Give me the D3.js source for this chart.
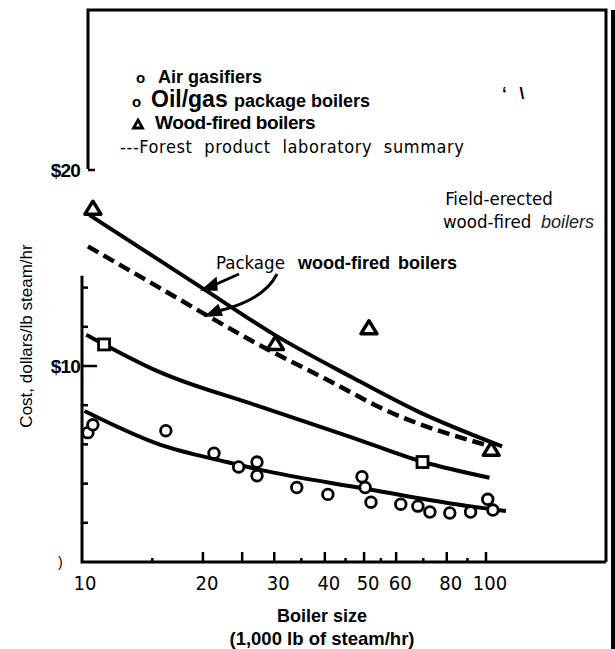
<html>
<head>
<script src="https://d3js.org/d3.v7.min.js"></script>
<style>
    body { margin: 0; background: #fff; }
    svg { display: block; }
    .sans { font-family: "Liberation Sans", Arial, sans-serif; }
    .narrow { font-family: "Liberation Sans Narrow", "DejaVu Sans Condensed", sans-serif; font-stretch: condensed; }
</style>
</head>
<body>
<svg id="chart" width="615" height="649"></svg>
<script>
// boiler size (1,000 lb steam/hr) vs cost ($/lb steam/hr)
const fieldErectedCurve = [[10.5, 17.7], [15.6, 15.4], [20.2, 13.9], [30, 11.6], [46.9, 9.4], [67.6, 7.7], [109.6, 5.9]];
const forestLabCurve = [[10.4, 16.1], [15.6, 14.0], [20, 12.7], [27.7, 11.05], [40, 9.36], [57.9, 7.65], [105, 5.85]];
const oilGasCurve = [[10.3, 11.6], [15.6, 9.7], [27, 8.0], [46, 6.4], [70, 5.1], [102, 4.3]];
const gasifierCurve = [[10.2, 7.7], [15.6, 6.0], [22.9, 5.1], [27.7, 4.7], [50, 3.75], [81, 3.0], [112, 2.6]];

const gasifierPoints = [[10.4, 6.6], [10.7, 7.0], [16.2, 6.7], [21.3, 5.55], [24.5, 4.85], [27.2, 5.1], [27.2, 4.4],
    [34.1, 3.8], [40.7, 3.45], [49.4, 4.35], [50.3, 3.8], [52, 3.05], [61.6, 2.95], [67.9, 2.85], [72.7, 2.55],
    [81.4, 2.5], [91.6, 2.55], [101, 3.2], [104, 2.65]];
const oilGasPoints = [[11.4, 11.1], [69.7, 5.1]];
const woodPoints = [[10.7, 18.0], [30.2, 11.1], [51.4, 11.9], [103, 5.7]];

const xTicks = [15, 20, 25, 30, 35, 40, 45, 50, 55, 60, 70, 80, 90, 100];
const xTallTicks = [20, 25, 30, 40, 50, 60, 80, 100];
const xLabels = [10, 20, 30, 40, 50, 60, 80, 100];
const yMinorTicks = [2, 4, 6, 8, 12, 14];
const yLabels = [10, 20];

const svg = d3.select("#chart");

const x = d3.scaleLog().domain([10, 100]).range([81, 486]);
const y = d3.scaleLinear().domain([0, 20]).range([562, 170]);

// frame (scanned figure: the box and axes are broken in places)
const frame = svg.append("g").attr("fill", "none").attr("stroke", "#000").attr("stroke-width", 3);
frame.append("path").attr("d", `M${x(10) + 7},${y(20) - 1} V10 H606 V${y(0)}`);
frame.append("path").attr("d", `M${x(10) + 7},${y(20)} h7`).attr("stroke-width", 2.5);
frame.append("path").attr("d", `M${x(10) + 1},${y(14.6)} V${y(0)} H606`);
svg.append("rect").attr("x", 611).attr("y", 10).attr("width", 4).attr("height", 639).attr("fill", "#000");

// y ticks
svg.append("g").selectAll("line").data(yMinorTicks).join("line")
    .attr("x1", x(10) + 1).attr("x2", x(10) + 7)
    .attr("y1", d => y(d)).attr("y2", d => y(d))
    .attr("stroke", "#000").attr("stroke-width", 2.5);
svg.append("line").attr("x1", x(10)).attr("x2", x(10) + 16)
    .attr("y1", y(10)).attr("y2", y(10)).attr("stroke", "#000").attr("stroke-width", 2.5);
svg.append("g").selectAll("text").data(yLabels).join("text")
    .attr("class", "sans")
    .attr("x", 80).attr("y", d => y(d) + 7)
    .attr("text-anchor", "end").attr("font-size", 19).attr("font-weight", "bold").attr("letter-spacing", -0.8)
    .text(d => "$" + d);
svg.append("text").attr("class", "sans").attr("x", 58).attr("y", y(0) + 5)
    .attr("font-size", 14).text(")");

// x ticks
svg.append("g").selectAll("line").data(xTicks).join("line")
    .attr("x1", d => x(d)).attr("x2", d => x(d))
    .attr("y1", y(0)).attr("y2", d => y(0) - (xTallTicks.includes(d) ? 10 : 4))
    .attr("stroke", "#000").attr("stroke-width", 2.5);
svg.append("g").selectAll("text").data(xLabels).join("text")
    .attr("class", "narrow")
    .attr("x", d => x(d) + 4).attr("y", 590)
    .attr("text-anchor", "middle").attr("font-size", 20)
    .text(d => d);

// axis titles
svg.append("text").attr("class", "sans")
    .attr("transform", "translate(32,336) rotate(-90)")
    .attr("text-anchor", "middle").attr("font-size", 17)
    .text("Cost, dollars/lb steam/hr");
svg.append("text").attr("class", "sans").attr("x", 322).attr("y", 622)
    .attr("text-anchor", "middle").attr("font-size", 18).attr("font-weight", "bold")
    .text("Boiler size");
svg.append("text").attr("class", "sans").attr("x", 322).attr("y", 645)
    .attr("text-anchor", "middle").attr("font-size", 18.5).attr("font-weight", "bold")
    .text("(1,000 lb of steam/hr)");

// curves
const line = d3.line().x(d => x(d[0])).y(d => y(d[1])).curve(d3.curveMonotoneX);
const curves = svg.append("g").attr("fill", "none").attr("stroke", "#000");
curves.append("path").attr("d", line(fieldErectedCurve)).attr("stroke-width", 4);
curves.append("path").attr("d", line(forestLabCurve)).attr("stroke-width", 4.5).attr("stroke-dasharray", "12,6");
curves.append("path").attr("d", line(oilGasCurve)).attr("stroke-width", 4);
curves.append("path").attr("d", line(gasifierCurve)).attr("stroke-width", 4);

// markers
svg.append("g").selectAll("circle").data(gasifierPoints).join("circle")
    .attr("cx", d => x(d[0])).attr("cy", d => y(d[1])).attr("r", 5.3)
    .attr("fill", "#fff").attr("stroke", "#000").attr("stroke-width", 2.8);
svg.append("g").selectAll("rect").data(oilGasPoints).join("rect")
    .attr("x", d => x(d[0]) - 5.5).attr("y", d => y(d[1]) - 5.5).attr("width", 11).attr("height", 11)
    .attr("fill", "#fff").attr("stroke", "#000").attr("stroke-width", 2.8);
svg.append("g").selectAll("path").data(woodPoints).join("path")
    .attr("d", d => `M${x(d[0])},${y(d[1]) - 8} l8,13 h-16 z`)
    .attr("fill", "#fff").attr("stroke", "#000").attr("stroke-width", 3.4).attr("stroke-linejoin", "round");

// legend
const legend = svg.append("g").attr("class", "sans").attr("font-weight", "bold");
const air = legend.append("text").attr("x", 136).attr("y", 83).attr("font-size", 18);
air.append("tspan").attr("font-size", 15).text("o ");
air.append("tspan").attr("x", 158).text("Air gasifiers");
const oil = legend.append("text").attr("x", 132).attr("y", 107).attr("font-size", 18);
oil.append("tspan").attr("font-size", 15).text("o ");
oil.append("tspan").attr("x", 151).attr("font-size", 23).text("Oil/gas");
oil.append("tspan").attr("x", 234).text("package boilers");
legend.append("path").attr("d", "M138,120 l4.5,8 h-9 z")
    .attr("fill", "none").attr("stroke", "#000").attr("stroke-width", 2.8);
legend.append("text").attr("x", 155).attr("y", 129).attr("font-size", 19).attr("letter-spacing", -0.4)
    .text("Wood-fired boilers");
svg.append("text").attr("class", "narrow").attr("x", 120).attr("y", 153).attr("font-size", 18)
    .attr("word-spacing", 6).attr("letter-spacing", 0.6)
    .text("---Forest product laboratory summary");
svg.append("text").attr("class", "sans").attr("x", 502).attr("y", 99).attr("font-size", 17)
    .attr("font-weight", "bold").attr("word-spacing", 8).text("‘  \\");

// annotations
svg.append("text").attr("class", "narrow").attr("x", 499).attr("y", 205)
    .attr("text-anchor", "middle").attr("font-size", 18.5).text("Field-erected");
const fe = svg.append("text").attr("x", 443).attr("y", 228);
fe.append("tspan").attr("class", "narrow").attr("font-size", 18.5).text("wood-fired");
fe.append("tspan").attr("x", 541).attr("class", "sans").attr("font-style", "italic").attr("font-size", 18).attr("fill", "#222").text("boilers");

const pk = svg.append("text").attr("x", 216).attr("y", 269);
pk.append("tspan").attr("class", "narrow").attr("font-size", 18.5).text("Package");
pk.append("tspan").attr("x", 298).attr("class", "sans").attr("font-size", 18).attr("font-weight", "bold").attr("word-spacing", 3)
    .text("wood-fired boilers");

const arrows = svg.append("g").attr("stroke", "#000").attr("stroke-width", 3).attr("fill", "none");
arrows.append("path").attr("d", "M239,274 L212,286");
arrows.append("path").attr("d", "M202,290 L216,278 L217,290 Z").attr("fill", "#000").attr("stroke-width", 1.5);
arrows.append("path").attr("d", "M277,274 C268,292 248,304 218,311");
arrows.append("path").attr("d", "M206,316 L218,305 L222,315 Z").attr("fill", "#000").attr("stroke-width", 1.5);
</script>
</body>
</html>
